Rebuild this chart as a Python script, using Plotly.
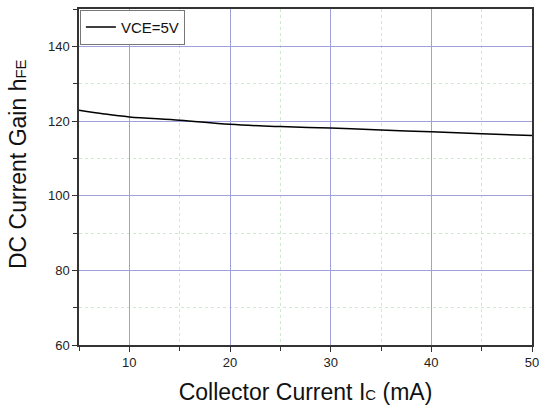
import plotly.graph_objects as go

ic_ma = [5, 7.5, 10, 15, 20, 25, 30, 35, 40, 45, 50]
hfe = [122.9, 121.9, 121.1, 120.2, 119.1, 118.5, 118.1, 117.6, 117.1, 116.6, 116.1]
series_name = "VCE=5V"
x_ticks = [10, 20, 30, 40, 50]
y_ticks = [60, 80, 100, 120, 140]

fig = go.Figure()
fig.add_trace(go.Scatter(x=ic_ma, y=hfe, mode="lines", name=series_name,
                         line=dict(color="black", width=1.5, shape="spline")))

axis_common = dict(
    showline=True, linecolor="#333333", linewidth=1.5, mirror=True,
    ticks="outside", ticklen=5, tickcolor="#333333", tickwidth=1,
    showgrid=True, gridcolor="#a0a0dc", gridwidth=1,
    zeroline=False, automargin=False, ticklabeloverflow="allow",
    tickfont=dict(family="Arial, Liberation Sans", size=13, color="#222"),
)

fig.update_xaxes(range=[5, 50], tickvals=x_ticks,
                 minor=dict(dtick=5, tick0=0, ticks="outside", ticklen=4, tickcolor="#333333",
                            showgrid=True, gridcolor="#cfe8cf", griddash="dot", gridwidth=1),
                 title=dict(text="Collector Current I<span style='font-size:15px'>C</span> (mA)",
                            font=dict(family="Arial, Liberation Sans", size=23, color="#111")),
                 **axis_common)
fig.update_yaxes(range=[60, 150], tickvals=y_ticks,
                 minor=dict(dtick=10, tick0=0, ticks="outside", ticklen=4, tickcolor="#333333",
                            showgrid=True, gridcolor="#cfe8cf", griddash="dot", gridwidth=1),
                 title=dict(text="&nbsp;&nbsp;&nbsp;&nbsp;DC Current Gain h<span style='font-size:15px'>FE</span>",
                            font=dict(family="Arial, Liberation Sans", size=23, color="#111")),
                 **axis_common)

fig.update_layout(
    width=539, height=410,
    margin=dict(l=79, r=7, t=9, b=65),
    paper_bgcolor="white", plot_bgcolor="white",
    showlegend=True,
    legend=dict(x=0.002, y=0.998, xanchor="left", yanchor="top",
                bgcolor="white", bordercolor="#777777", borderwidth=1,
                font=dict(family="Arial, Liberation Sans", size=15, color="#111"),
                tracegroupgap=0, itemwidth=30),
)

fig.write_html("out.html", config={"displayModeBar": False},
               post_script="document.body.style.margin='0';document.body.style.overflow='hidden';")
